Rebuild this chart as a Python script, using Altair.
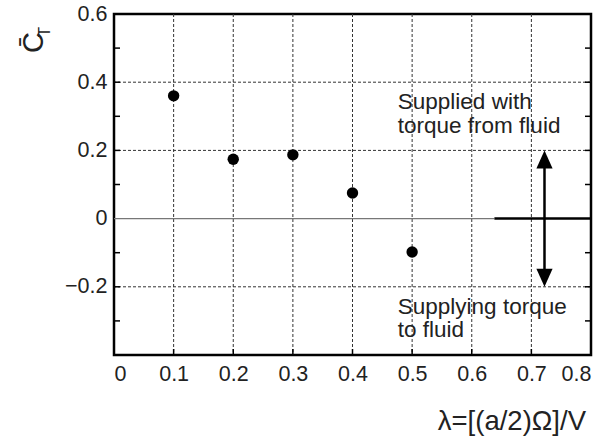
import altair as alt
import pandas as pd

# ---- data ----
lam = [0.1, 0.2, 0.3, 0.4, 0.5]
ct = [0.36, 0.174, 0.187, 0.075, -0.098]

x_ticks = [0, 0.1, 0.2, 0.3, 0.4, 0.5, 0.6, 0.7, 0.8]
y_ticks = [-0.4, -0.2, 0, 0.2, 0.4, 0.6]
x_grid = [0.1, 0.2, 0.3, 0.4, 0.5, 0.6, 0.7]
y_grid = [-0.2, 0.2, 0.4]
y_minor = [-0.3, -0.2, -0.1, 0.1, 0.2, 0.3, 0.4, 0.5]
x_minor = [0.1, 0.2, 0.3, 0.4, 0.5, 0.6, 0.7]

top_text = ["Supplied with", "torque from fluid"]
top_text_y = [0.320, 0.250]
bot_text = ["Supplying torque", "to fluid"]
bot_text_y = [-0.280, -0.348]
text_x = 0.476

arrow_x = 0.722
arrow_top = 0.2
arrow_bot = -0.2
zero_split = 0.638

W, H = 477, 341
FONT = "Liberation Sans"

xs = alt.Scale(domain=[0, 0.8], nice=False, zero=False)
ys = alt.Scale(domain=[-0.4, 0.6], nice=False, zero=False)

pts_df = pd.DataFrame({"lam": lam, "ct": ct})

base_axis_x = alt.Axis(values=x_ticks, grid=False, ticks=False, domain=False,
                       labelFont=FONT, labelFontSize=21.5, labelColor="#222",
                       labelPadding=8, title=None,
                       labelExpr="datum.value == 0 ? '0' : format(datum.value, '.1f')")
base_axis_y = alt.Axis(values=y_ticks, grid=False, ticks=False, domain=False,
                       labelFont=FONT, labelFontSize=21.5, labelColor="#222",
                       labelPadding=7, title=None,
                       labelExpr="datum.value == 0 ? '0' : (datum.value < -0.3 ? '' : format(datum.value, '.1f'))")

# grid lines
gx = alt.Chart(pd.DataFrame({"v": x_grid})).mark_rule(
    color="#333", strokeWidth=1, strokeDash=[3, 2]).encode(
    x=alt.X("v:Q", scale=xs, axis=base_axis_x))
gy = alt.Chart(pd.DataFrame({"v": y_grid})).mark_rule(
    color="#333", strokeWidth=1, strokeDash=[3, 2]).encode(
    y=alt.Y("v:Q", scale=ys, axis=base_axis_y))

# inward ticks
tl = alt.Chart(pd.DataFrame({"v": y_minor})).mark_rule(color="black", strokeWidth=1.5).encode(
    y=alt.Y("v:Q", scale=ys), x=alt.value(0), x2=alt.value(6))
tr = alt.Chart(pd.DataFrame({"v": y_minor})).mark_rule(color="black", strokeWidth=1.5).encode(
    y=alt.Y("v:Q", scale=ys), x=alt.value(W - 6), x2=alt.value(W))
tb = alt.Chart(pd.DataFrame({"v": x_minor})).mark_rule(color="black", strokeWidth=1.5).encode(
    x=alt.X("v:Q", scale=xs), y=alt.value(H - 6), y2=alt.value(H))

# zero line
z_thin = alt.Chart(pd.DataFrame({"a": [0], "b": [zero_split], "y": [0]})).mark_rule(
    color="#777", strokeWidth=1.2).encode(
    x=alt.X("a:Q", scale=xs), x2="b:Q", y=alt.Y("y:Q", scale=ys))
z_thick = alt.Chart(pd.DataFrame({"a": [zero_split], "b": [0.8], "y": [0]})).mark_rule(
    color="black", strokeWidth=2.5).encode(
    x=alt.X("a:Q", scale=xs), x2="b:Q", y=alt.Y("y:Q", scale=ys))

# arrow
arr_line = alt.Chart(pd.DataFrame({"x": [arrow_x], "a": [arrow_top - 0.03], "b": [arrow_bot + 0.03]})).mark_rule(
    color="black", strokeWidth=2.5).encode(
    x=alt.X("x:Q", scale=xs), y=alt.Y("a:Q", scale=ys), y2="b:Q")
head_up = alt.Chart(pd.DataFrame({"x": [arrow_x], "y": [arrow_top]})).mark_point(
    shape="M0,0 L-0.45,1 L0.45,1 Z", size=1296, filled=True, color="black", opacity=1).encode(
    x=alt.X("x:Q", scale=xs), y=alt.Y("y:Q", scale=ys))
head_dn = alt.Chart(pd.DataFrame({"x": [arrow_x], "y": [arrow_bot]})).mark_point(
    shape="M0,0 L-0.45,-1 L0.45,-1 Z", size=1296, filled=True, color="black", opacity=1).encode(
    x=alt.X("x:Q", scale=xs), y=alt.Y("y:Q", scale=ys))

# points
pts = alt.Chart(pts_df).mark_circle(size=130, color="black", opacity=1).encode(
    x=alt.X("lam:Q", scale=xs), y=alt.Y("ct:Q", scale=ys))

# annotations
ann_df = pd.DataFrame({"t": top_text + bot_text,
                       "y": top_text_y + bot_text_y,
                       "x": [text_x] * 4})
ann = alt.Chart(ann_df).mark_text(
    align="left", baseline="alphabetic", font=FONT, fontSize=22.5, color="#222").encode(
    x=alt.X("x:Q", scale=xs), y=alt.Y("y:Q", scale=ys), text="t:N")

# axis titles
xtitle = alt.Chart(pd.DataFrame({"t": ["λ=[(a/2)Ω]/V"]})).mark_text(
    align="right", baseline="alphabetic", font=FONT, fontSize=27.5, color="#222").encode(
    x=alt.value(472), y=alt.value(416), text="t:N")
ytitle_c = alt.Chart(pd.DataFrame({"t": ["C\u0304"]})).mark_text(
    align="center", baseline="alphabetic", font=FONT, fontSize=29, angle=270, color="#222").encode(
    x=alt.value(-71), y=alt.value(28.5), text="t:N")
ytitle_t = alt.Chart(pd.DataFrame({"t": ["T"]})).mark_text(
    align="center", baseline="alphabetic", font=FONT, fontSize=17, angle=270, color="#222").encode(
    x=alt.value(-64), y=alt.value(18), text="t:N")

chart = alt.layer(gx, gy, tl, tr, tb, z_thin, z_thick, arr_line, head_up, head_dn,
                  pts, ann, xtitle, ytitle_c, ytitle_t).properties(
    width=W, height=H,
    autosize=alt.AutoSizeParams(type="none"),
    padding={"left": 114, "top": 14, "right": 18, "bottom": 84},
    background="white",
).configure_view(stroke="black", strokeWidth=2.5)

chart.save("out.html", embed_options={"renderer": "svg", "actions": False})
